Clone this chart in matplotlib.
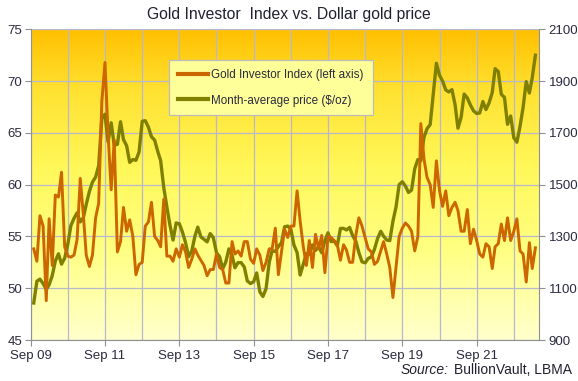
import numpy as np
import pandas as pd
import matplotlib
matplotlib.use("Agg")
import matplotlib.pyplot as plt
from matplotlib.colors import LinearSegmentedColormap
from matplotlib.lines import Line2D

plt.rcParams['font.family'] = ['Liberation Sans', 'DejaVu Sans']

start_month = '2009-10-01'

investor_index = [
    53.8, 52.6, 57.0, 56.0, 48.8, 56.7, 52.2, 59.0, 58.8, 61.2, 54.0, 53.1,
    53.0, 53.2, 54.7, 60.6, 57.0, 53.2, 52.1, 53.2, 56.8, 58.2, 68.0, 71.8,
    65.0, 59.5, 64.3, 53.5, 54.5, 57.8, 55.5, 56.6, 55.0, 51.3, 52.3, 52.5,
    56.0, 56.4, 58.3, 55.0, 54.6, 54.0, 58.6, 53.1, 53.1, 52.6, 53.8, 53.0,
    54.2, 53.5, 52.0, 52.8, 53.8, 53.2, 52.7, 52.2, 51.2, 51.8, 51.8, 53.3,
    52.0, 51.8, 50.5, 50.5, 54.5, 53.3, 53.6, 53.1, 54.5, 54.5, 52.8, 52.4,
    53.8, 53.2, 51.7, 52.5, 53.8, 53.8, 55.8, 51.3, 53.5, 55.7, 54.9, 56.0,
    56.0, 59.4, 56.5, 54.0, 52.2, 54.6, 52.0, 55.2, 53.8, 55.1, 51.5, 55.0,
    54.9, 54.6, 54.2, 52.7, 54.2, 53.7, 52.5, 52.5, 55.1, 56.8, 56.0, 54.9,
    53.8, 53.5, 52.3, 52.6, 53.6, 54.5, 53.3, 52.0, 49.1, 52.0, 55.0, 55.8,
    56.3, 56.0, 55.5, 53.6, 55.0, 65.9, 62.5, 60.7, 60.0, 57.8, 62.3, 59.4,
    57.9, 59.4, 57.0, 57.8, 58.3, 57.5, 55.5, 55.5, 57.6, 54.3, 55.7, 54.6,
    53.3, 53.0, 54.3, 54.0, 51.9, 54.0, 54.3, 56.2, 54.6, 56.8, 54.6, 55.5,
    56.7, 53.6, 53.3, 50.6, 54.4, 51.9, 53.9,
]

gold_price = [
    1043, 1127, 1135,
    1118, 1095, 1113, 1149, 1205, 1233, 1193, 1216, 1271, 1342, 1370, 1391,
    1356, 1373, 1424, 1474, 1510, 1529, 1573, 1756, 1772, 1665, 1739, 1652,
    1656, 1743, 1674, 1650, 1586, 1597, 1594, 1626, 1745, 1747, 1722, 1685,
    1672, 1628, 1593, 1488, 1414, 1343, 1286, 1352, 1349, 1317, 1276, 1222,
    1244, 1301, 1336, 1298, 1289, 1279, 1311, 1295, 1237, 1222, 1175, 1201,
    1252, 1227, 1179, 1199, 1199, 1182, 1128, 1118, 1125, 1159, 1086, 1068,
    1098, 1200, 1245, 1242, 1261, 1276, 1337, 1340, 1327, 1267, 1238, 1151,
    1192, 1234, 1231, 1267, 1246, 1260, 1237, 1283, 1314, 1280, 1282, 1264,
    1331, 1331, 1325, 1335, 1303, 1282, 1238, 1202, 1198, 1215, 1221, 1250,
    1292, 1320, 1301, 1286, 1284, 1359, 1413, 1500, 1511, 1495, 1470, 1479,
    1561, 1597, 1592, 1683, 1716, 1732, 1847, 1969, 1922, 1900, 1866, 1858,
    1867, 1808, 1718, 1760, 1850, 1835, 1808, 1785, 1775, 1777, 1821, 1790,
    1816, 1856, 1948, 1937, 1849, 1837, 1733, 1765, 1681, 1664, 1725, 1798,
    1898, 1854, 1913, 2000,
]

tick_years = [2009, 2011, 2013, 2015, 2017, 2019, 2021]
tick_labels = ['Sep 09', 'Sep 11', 'Sep 13', 'Sep 15', 'Sep 17', 'Sep 19', 'Sep 21']

title = 'Gold Investor  Index vs. Dollar gold price'
label_index = 'Gold Investor Index (left axis)'
label_price = 'Month-average price ($/oz)'

dates = pd.date_range(start_month, periods=len(investor_index), freq='MS')

ORANGE = '#CC6600'
OLIVE = '#808000'
GRID = '#B8B8CC'
TXT = '#2A2A40'

fig = plt.figure(figsize=(5.78, 3.81), dpi=100)
fig.patch.set_facecolor('white')
ax = fig.add_axes([0.0531, 0.1076, 0.879, 0.8155])
ax2 = ax.twinx()

ax.set_zorder(ax2.get_zorder() + 1)
ax.patch.set_visible(False)

cmap = LinearSegmentedColormap.from_list(
    'bg', [(0.0, '#FFFFCC'), (0.3, '#FFFF80'), (0.55, '#FFF85A'),
           (0.8, '#FFE232'), (1.0, '#FFC000')])
grad = np.linspace(0, 1, 256).reshape(-1, 1)
ax2.imshow(grad, extent=[0, 1, 0, 1], transform=ax2.transAxes, aspect='auto',
           cmap=cmap, origin='lower', zorder=0)

xmin = pd.Timestamp('2009-09-01')
xmax = pd.Timestamp('2023-05-04')

ax2.set_ylim(900, 2100)
ax2.set_yticks(np.arange(900, 2101, 200))
for y in np.arange(900, 2101, 200):
    ax2.axhline(y, color=GRID, lw=0.9, zorder=1)
for yr in range(2009, 2023):
    ax2.axvline(pd.Timestamp(f'{yr}-09-01'), color=GRID, lw=0.9, zorder=1)

ax2.plot(dates, gold_price, color=OLIVE, lw=2.4, zorder=3, solid_joinstyle='round')
ax.plot(dates, investor_index, color=ORANGE, lw=2.1, zorder=4, solid_joinstyle='round')

ax.set_ylim(45, 75)
ax.set_yticks(np.arange(45, 76, 5))
ax.set_xlim(xmin, xmax)
ax2.set_xlim(xmin, xmax)
ax.set_xticks([pd.Timestamp(f'{y}-09-01') for y in tick_years])
ax.set_xticklabels(tick_labels)

for a in (ax, ax2):
    for s in a.spines.values():
        s.set_visible(False)
ax.spines['left'].set_visible(True)
ax.spines['left'].set_color('#909090')
ax.spines['bottom'].set_visible(True)
ax.spines['bottom'].set_color('#909090')
ax2.spines['right'].set_visible(True)
ax2.spines['right'].set_color('#909090')

ax.tick_params(axis='y', labelsize=9.5, colors='#909090', labelcolor=TXT, length=4, pad=2)
ax.tick_params(axis='x', labelsize=9.5, colors='#909090', labelcolor=TXT, length=4, pad=3)
ax2.tick_params(axis='y', labelsize=9.5, colors='#909090', labelcolor=TXT, length=4, pad=3)

fig.text(0.5, 0.963, title, ha='center', va='center', fontsize=11.3, color='#202030')

handles = [Line2D([], [], color=ORANGE, lw=3),
           Line2D([], [], color=OLIVE, lw=3)]
leg = ax.legend(handles, [label_index, label_price], loc='upper left',
                bbox_to_anchor=(0.272, 0.9), frameon=True, fancybox=False,
                fontsize=8.4, labelcolor=TXT, handlelength=2.6, handletextpad=0.3,
                labelspacing=1.15, borderpad=0.75, borderaxespad=0)
leg.get_frame().set_facecolor('#FFFF99')
leg.get_frame().set_edgecolor('#BBBBBB')
leg.get_frame().set_alpha(1)
leg.get_frame().set_linewidth(0.9)

fig.text(0.989, 0.028, 'BullionVault, LBMA', ha='right', va='center', fontsize=10, color='#202030')
fig.text(0.989 - 0.212, 0.028, 'Source:', ha='right', va='center', fontsize=10,
         style='italic', color='#202030')

fig.savefig('out.png', dpi=100)
